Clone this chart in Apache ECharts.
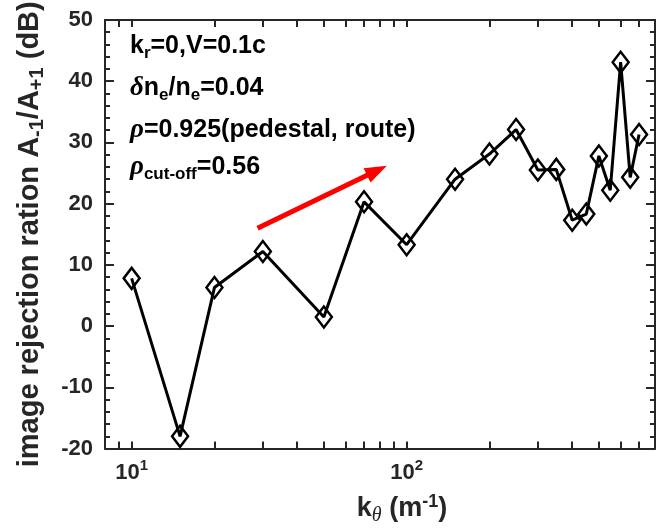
<!DOCTYPE html>
<html><head><meta charset="utf-8">
<script src="https://cdn.jsdelivr.net/npm/echarts@6/dist/echarts.min.js"></script>
<style>html,body{margin:0;padding:0;background:#fff}#c{width:660px;height:531px}</style>
</head><body><div id="c"></div>
<script>
// ---- data ----
const kTheta = [10, 15, 20, 30, 50, 70, 100, 150, 200, 250, 300, 350, 400, 450, 500, 550, 600, 650, 700];
const ratio  = [7.8, -18.0, 6.3, 12.2, 1.5, 20.3, 13.3, 24.0, 28.1, 32.1, 25.5, 25.6, 17.3, 18.3, 27.8, 22.2, 43.1, 24.3, 31.3];
const xLabelTicks = [10, 100];
const xTicks = [9, 10, 20, 30, 40, 50, 60, 70, 80, 90, 100, 200, 300, 400, 500, 600, 700];
const arrowFrom = [28.7, 16.0];
const arrowTo = [78, 25.4];
const notes = [
  '{m|k}{sb|r}{m|=0,V=0.1c}',
  '{g|δ}{m|n}{sb|e}{m|/n}{sb|e}{m|=0.04}',
  '{g|ρ}{m|=0.925(pedestal, route)}',
  '{g|ρ}{sb|cut-off}{m|=0.56}'
];

const FF = '"Liberation Sans", Arial, Helvetica, sans-serif';
const AC = '#262626';

function xAxisCfg(pos, withLabel) {
  const a = {
    type: 'log', logBase: 10, min: 8, max: 800, position: pos,
    axisLine: {show: true, onZero: false, lineStyle: {color: AC, width: 2}},
    axisTick: {show: true, inside: true, length: 7, customValues: xTicks, lineStyle: {color: AC, width: 2}},
    axisLabel: {show: false},
    splitLine: {show: false}
  };
  if (withLabel) {
    a.axisLabel = {
      show: true, customValues: xLabelTicks, margin: 12,
      formatter: v => '{b|10}{s|' + Math.round(Math.log10(v)) + '}',
      rich: {
        b: {fontSize: 22, fontWeight: 'bold', fontFamily: FF, color: AC, lineHeight: 24},
        s: {fontSize: 15, fontWeight: 'bold', fontFamily: FF, color: AC, lineHeight: 15, padding: [0, 0, 14, 0]}
      }
    };
    a.name = '{n|k}{sb|θ}{n| (m}{sp|-1}{n|)}';
    a.nameLocation = 'middle';
    a.nameGap = 46;
    a.nameTextStyle = {
      padding: [0, 0, 0, 44],
      rich: {
        n: {fontSize: 27, fontWeight: 'bold', fontFamily: FF, color: AC, lineHeight: 28},
        sb: {fontSize: 20, fontStyle: 'italic', fontFamily: '"Liberation Serif", serif', color: AC, lineHeight: 19, padding: [14, 0, 0, 0]},
        sp: {fontSize: 18, fontWeight: 'bold', fontFamily: FF, color: AC, lineHeight: 18, padding: [0, 0, 14, 0]}
      }
    };
  }
  return a;
}

function yAxisCfg(pos, withLabel) {
  const a = {
    type: 'value', min: -20, max: 50, interval: 10, position: pos,
    axisLine: {show: true, onZero: false, lineStyle: {color: AC, width: 2}},
    axisTick: {show: true, inside: true, length: 9, lineStyle: {color: AC, width: 2}},
    minorTick: {show: true, splitNumber: 5, length: 5, lineStyle: {color: AC, width: 2}},
    axisLabel: {show: withLabel, fontSize: 22, fontWeight: 'bold', fontFamily: FF, color: AC, margin: 12},
    splitLine: {show: false}
  };
  if (withLabel) {
    a.name = '{n|image rejection ration A}{sb|-1}{n|/A}{sb|+1}{n| (dB)}';
    a.nameLocation = 'middle';
    a.nameRotate = 90;
    a.nameGap = 60;
    a.nameTextStyle = {
      rich: {
        n: {fontSize: 29, fontWeight: 'bold', fontFamily: FF, color: AC, lineHeight: 30},
        sb: {fontSize: 20, fontWeight: 'bold', fontFamily: FF, color: AC, lineHeight: 20, padding: [15, 0, 0, 0]}
      }
    };
  }
  return a;
}

const noteRich = {
  m: {fontSize: 25, fontWeight: 'bold', fontFamily: FF, color: '#000', lineHeight: 28},
  sb: {fontSize: 17, fontWeight: 'bold', fontFamily: FF, color: '#000', lineHeight: 17, padding: [14, 0, 0, 0]},
  g: {fontSize: 27, fontStyle: 'italic', fontFamily: '"Liberation Serif", serif', color: '#000', lineHeight: 28}
};
const noteTop = [32, 74, 116, 153];

const chart = echarts.init(document.getElementById('c'), null, {renderer: 'canvas'});
chart.setOption({
  animation: false,
  backgroundColor: '#fff',
  title: notes.map((t, i) => ({
    text: t, left: 130, top: noteTop[i], padding: 0, silent: true,
    textStyle: {rich: noteRich, fontSize: 25, fontWeight: 'bold', fontFamily: FF, color: '#000'}
  })),
  grid: {left: 105, top: 17, width: 550, height: 435, containLabel: false},
  xAxis: [xAxisCfg('bottom', true), xAxisCfg('top', false)],
  yAxis: [yAxisCfg('left', true), yAxisCfg('right', false)],
  series: [{
    type: 'line',
    xAxisIndex: 0, yAxisIndex: 0,
    data: kTheta.map((k, i) => [k, ratio[i]]),
    symbol: 'diamond', symbolSize: [16, 21],
    lineStyle: {color: '#000', width: 3},
    itemStyle: {color: 'rgba(0,0,0,0)', borderColor: '#000', borderWidth: 2.5},
    markLine: {
      silent: true, animation: false,
      symbol: ['none', 'triangle'], symbolSize: [16, 22],
      label: {show: false},
      lineStyle: {color: '#ff0000', width: 5, type: 'solid'},
      itemStyle: {color: '#ff0000'},
      data: [[{coord: arrowFrom}, {coord: arrowTo}]]
    }
  }]
});
</script></body></html>
